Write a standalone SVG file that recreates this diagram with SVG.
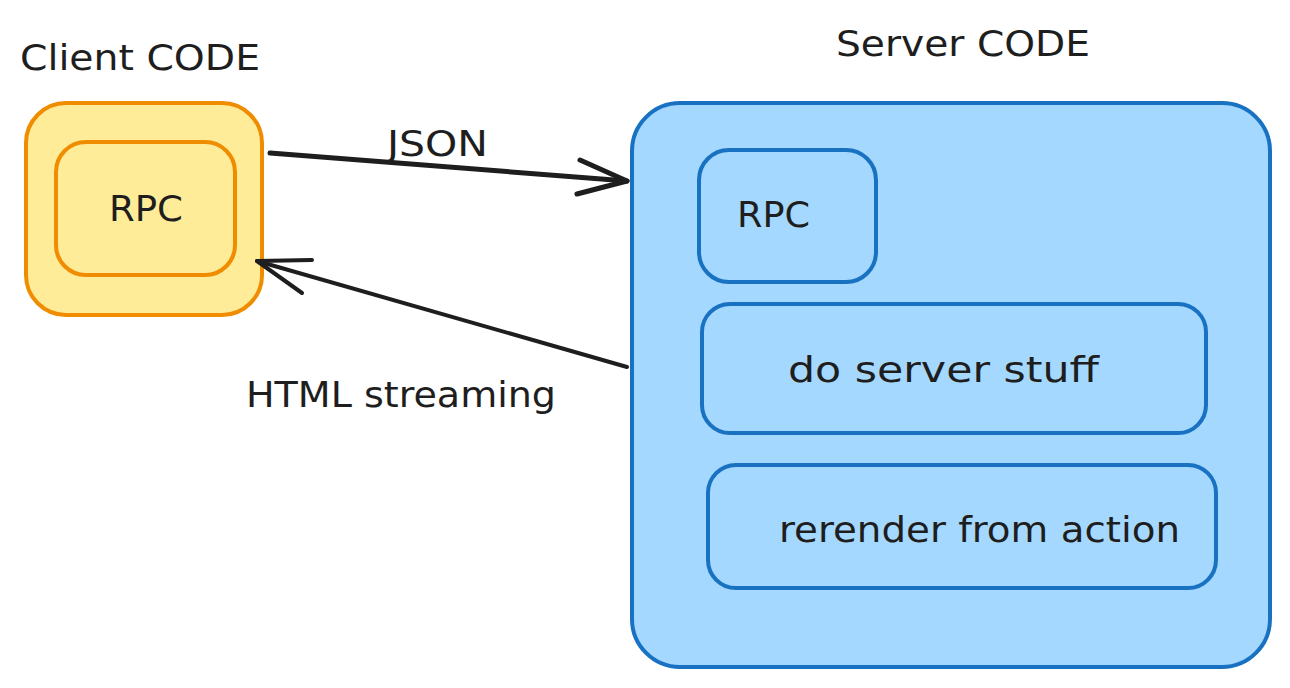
<svg xmlns="http://www.w3.org/2000/svg" width="1290" height="688" viewBox="0 0 1290 688">
  <style>
    .lbl { font-family: "DejaVu Sans", "Liberation Sans", sans-serif; font-size: 35px; fill: #1e1e1e; }
    .client { fill: #ffec99; stroke: #f08c00; stroke-width: 4; }
    .server { fill: #a5d8ff; stroke: #1971c2; stroke-width: 4; }
    .conn { fill: none; stroke: #1e1e1e; stroke-linecap: round; stroke-linejoin: round; }
  </style>
  <rect width="1290" height="688" fill="#ffffff"/>

  <g id="client-title">
    <text class="lbl" x="20" y="70" textLength="240" lengthAdjust="spacingAndGlyphs">Client CODE</text>
  </g>
  <g id="server-title">
    <text class="lbl" x="836" y="56" textLength="254" lengthAdjust="spacingAndGlyphs">Server CODE</text>
  </g>

  <g id="client">
    <rect class="client" x="26" y="103" width="236" height="212" rx="40" ry="40"/>
  </g>
  <g id="client-rpc">
    <rect class="client" x="56" y="142" width="179" height="133" rx="30" ry="30"/>
    <text class="lbl" x="109" y="221" textLength="74" lengthAdjust="spacingAndGlyphs">RPC</text>
  </g>

  <g id="server">
    <rect class="server" x="632" y="103" width="638" height="564" rx="48" ry="48"/>
  </g>
  <g id="server-rpc">
    <rect class="server" x="699" y="150" width="177" height="132" rx="30" ry="30"/>
    <text class="lbl" x="737" y="227" textLength="73" lengthAdjust="spacingAndGlyphs">RPC</text>
  </g>
  <g id="do-server-stuff">
    <rect class="server" x="702" y="304" width="504" height="129" rx="28" ry="28"/>
    <text class="lbl" x="788" y="382" textLength="311" lengthAdjust="spacingAndGlyphs">do server stuff</text>
  </g>
  <g id="rerender">
    <rect class="server" x="708" y="465" width="508" height="123" rx="28" ry="28"/>
    <text class="lbl" x="779" y="542" textLength="401" lengthAdjust="spacingAndGlyphs">rerender from action</text>
  </g>

  <g id="connectors">
    <g id="json-arrow">
      <path class="conn" stroke-width="5" d="M270 153 L627 181"/>
      <path class="conn" stroke-width="5" d="M580 160 L627 181 L577 194"/>
      <text class="lbl" x="387" y="156" textLength="101" lengthAdjust="spacingAndGlyphs">JSON</text>
    </g>
    <g id="html-arrow">
      <path class="conn" stroke-width="4" d="M627 367 L257 261"/>
      <path class="conn" stroke-width="4" d="M312 260 L257 261 L302 293"/>
      <text class="lbl" x="246" y="407" textLength="310" lengthAdjust="spacingAndGlyphs">HTML streaming</text>
    </g>
  </g>
</svg>
